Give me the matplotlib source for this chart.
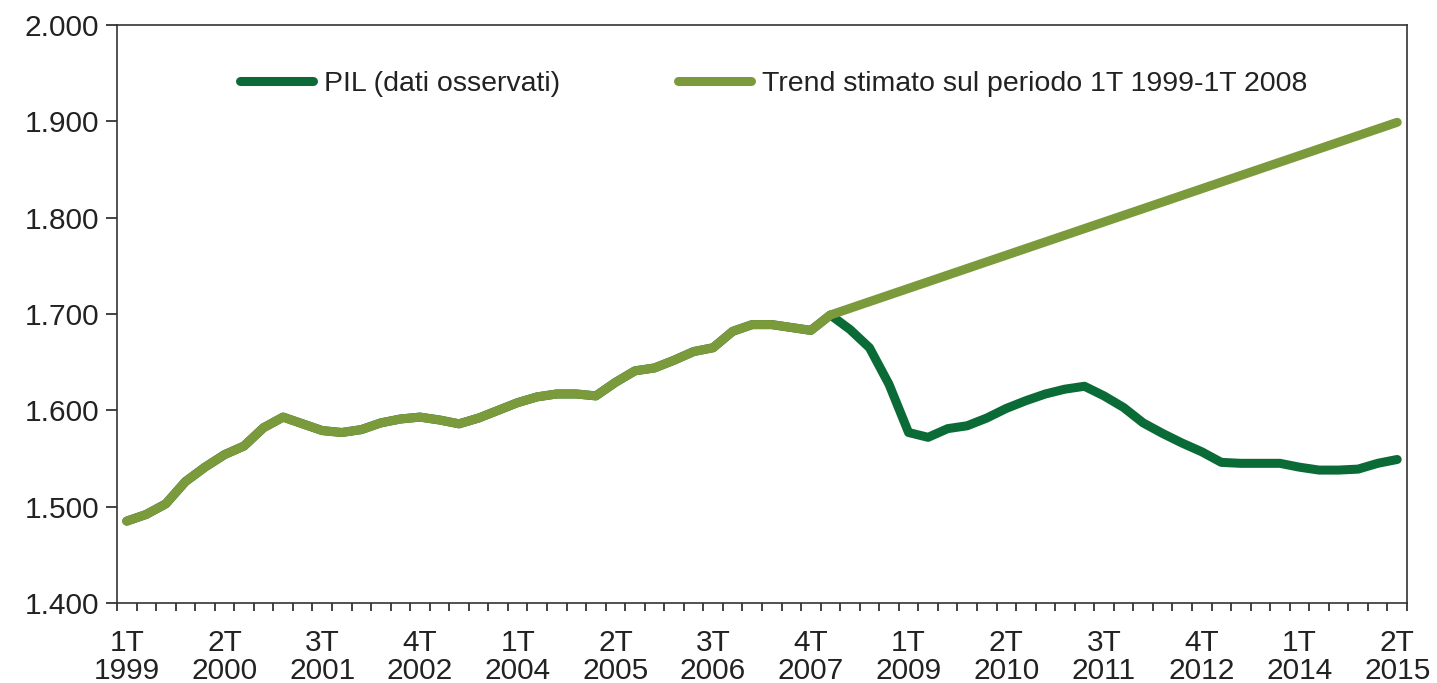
import matplotlib
matplotlib.use("Agg")
import matplotlib.pyplot as plt
from matplotlib.ticker import FuncFormatter, FixedLocator

plt.rcParams['font.family'] = ['Liberation Sans', 'DejaVu Sans']

# quarterly GDP (PIL), 1T 1999 .. 2T 2015, billions
quarters = []
for year in range(1999, 2016):
    for q in range(1, 5):
        quarters.append(f"{q}T\n{year}")
quarters = quarters[:66]

pil = [1485, 1492, 1503, 1526, 1541, 1554, 1563, 1582, 1593, 1586,
       1579, 1577, 1580, 1587, 1591, 1593, 1590, 1586, 1592, 1600,
       1608, 1614, 1617, 1617, 1615, 1629, 1641, 1644, 1652, 1661,
       1665, 1682, 1689, 1689, 1686, 1683, 1699, 1684, 1665, 1627,
       1577, 1572, 1581, 1584, 1592, 1602, 1610, 1617, 1622, 1625,
       1615, 1603, 1587, 1576, 1566, 1557, 1546, 1545, 1545, 1545,
       1541, 1538, 1538, 1539, 1545, 1549]

# trend estimated on 1T 1999-1T 2008, drawn from 1T 2008 to the end
trend_idx = [36, 65]
trend_val = [1699, 1899]

label_idx = list(range(0, 66, 5))

dark = "#0b6b36"
light = "#7b9a3b"

fig = plt.figure(figsize=(14.37, 6.83), dpi=100)
ax = fig.add_axes([0.0814, 0.1171, 0.8977, 0.8463])

x = list(range(len(pil)))
ax.plot(x, pil, color=dark, lw=6.5, solid_capstyle="round",
        solid_joinstyle="round", label="PIL (dati osservati)", zorder=2)
# observed path up to 1T 2008 coincides with the trend series
ax.plot(x[:37], pil[:37], color=light, lw=6.5, solid_capstyle="round",
        solid_joinstyle="round", zorder=3)
ax.plot(trend_idx, trend_val, color=light, lw=6.5, solid_capstyle="round",
        label="Trend stimato sul periodo 1T 1999-1T 2008", zorder=3)

ax.set_xlim(-0.5, 65.5)
ax.set_ylim(1400, 2000)
ax.set_yticks(range(1400, 2001, 100))
ax.yaxis.set_major_formatter(FuncFormatter(lambda v, p: f"{int(v):,}".replace(",", ".")))

ax.xaxis.set_major_locator(FixedLocator(label_idx))
ax.set_xticklabels([quarters[i] for i in label_idx])
ax.xaxis.set_minor_locator(FixedLocator([i - 0.5 for i in range(67)]))

ax.tick_params(axis="x", which="major", length=0, pad=19, labelsize=21.5,
               labelcolor="#222222")
ax.tick_params(axis="x", which="minor", direction="out", length=6, width=1.2,
               color="#222222")
ax.tick_params(axis="y", direction="out", length=8, width=1.2, pad=5,
               labelsize=21.5, labelcolor="#222222", color="#222222")
for lbl in ax.get_xticklabels():
    lbl.set_linespacing(1.0)

for s in ax.spines.values():
    s.set_color("#333333")
    s.set_linewidth(1.2)

leg = ax.legend(loc="center left", bbox_to_anchor=(0.0953, 0.898), ncol=2,
                frameon=False, fontsize=20.5, handlelength=2.56,
                handletextpad=0.39, columnspacing=4.14, borderaxespad=0,
                borderpad=0)
for t in leg.get_texts():
    t.set_color("#222222")

fig.savefig("out.png", dpi=100)
